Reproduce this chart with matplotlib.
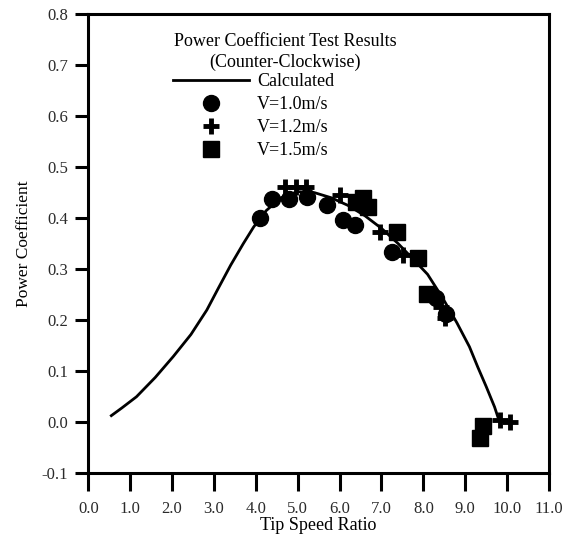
import matplotlib
matplotlib.use("Agg")
import matplotlib.pyplot as plt
from matplotlib.lines import Line2D

plt.rcParams["font.family"] = ["Liberation Serif", "DejaVu Serif"]

# calculated power coefficient curve
tsr_calc = [0.55, 0.8, 1.15, 1.6, 2.03, 2.45, 2.83, 3.1, 3.4, 3.7, 3.95, 4.25, 4.6,
            5.0, 5.4, 5.8, 6.2, 6.6, 7.0, 7.4, 7.8, 8.1, 8.45, 8.8, 9.1, 9.3, 9.5,
            9.7, 9.78]
cp_calc = [0.013, 0.028, 0.05, 0.088, 0.129, 0.172, 0.22, 0.262, 0.308, 0.35, 0.383,
           0.415, 0.44, 0.452, 0.45, 0.44, 0.425, 0.405, 0.38, 0.35, 0.316, 0.29,
           0.245, 0.195, 0.148, 0.108, 0.07, 0.03, 0.01]

# test results, V = 1.0 m/s
tsr_v10 = [4.10, 4.38, 4.78, 5.21, 5.69, 6.09, 6.36, 7.24, 8.31, 8.55]
cp_v10 = [0.40, 0.438, 0.438, 0.442, 0.425, 0.396, 0.386, 0.334, 0.243, 0.213]

# test results, V = 1.2 m/s
tsr_v12 = [4.69, 4.97, 5.20, 6.00, 6.96, 7.52, 8.43, 8.51, 9.83, 10.06]
cp_v12 = [0.461, 0.461, 0.461, 0.445, 0.373, 0.327, 0.226, 0.204, 0.005, 0.0]

# test results, V = 1.5 m/s
tsr_v15 = [6.40, 6.56, 6.68, 7.36, 7.88, 8.08, 9.43, 9.35]
cp_v15 = [0.432, 0.44, 0.422, 0.373, 0.321, 0.252, -0.008, -0.03]

xticks = [0.0, 1.0, 2.0, 3.0, 4.0, 5.0, 6.0, 7.0, 8.0, 9.0, 10.0, 11.0]
yticks = [-0.1, 0.0, 0.1, 0.2, 0.3, 0.4, 0.5, 0.6, 0.7, 0.8]

fig = plt.figure(figsize=(5.66, 5.39), dpi=100)
ax = fig.add_axes([0.156, 0.1219, 0.814, 0.852])

ax.plot(tsr_calc, cp_calc, color="black", lw=2.0, zorder=2)
ax.plot(tsr_v10, cp_v10, "o", color="black", ms=11.5, zorder=3)
ax.plot(tsr_v12, cp_v12, "+", color="black", ms=12, mew=3.5, zorder=3)
ax.plot(tsr_v15, cp_v15, "s", color="black", ms=11, zorder=3)

ax.set_xlim(0, 11)
ax.set_ylim(-0.1, 0.8)
ax.set_xticks(xticks)
ax.set_yticks(yticks)
ax.set_xticklabels([f"{v:.1f}" for v in xticks])
ax.set_yticklabels([f"{v:.1f}" for v in yticks])

for s in ax.spines.values():
    s.set_linewidth(2.2)
ax.tick_params(axis="x", direction="out", length=13, width=2.2, pad=7,
               labelsize=12, labelcolor="#2a2a2a")
ax.tick_params(axis="y", direction="out", length=9.5, width=2.2, pad=5,
               labelsize=12, labelcolor="#2a2a2a")

ax.set_xlabel("Tip Speed Ratio", fontsize=13, labelpad=0)
ax.set_ylabel("Power Coefficient", fontsize=12.5, labelpad=7)

# legend block
fig.text(285 / 566, 1 - 52 / 539, "Power Coefficient Test Results\n(Counter-Clockwise)",
         ha="center", va="center", fontsize=13, linespacing=1.22)

handles = [
    Line2D([], [], color="black", lw=2.0),
    Line2D([], [], ls="none", marker="o", color="black", ms=11.5),
    Line2D([], [], ls="none", marker="+", color="black", ms=12, mew=3.5),
    Line2D([], [], ls="none", marker="s", color="black", ms=11),
]
labels = ["Calculated", "V=1.0m/s", "V=1.2m/s", "V=1.5m/s"]
fig.legend(handles, labels, loc="upper left",
           bbox_to_anchor=(173 / 566, 1 - 73.5 / 539),
           frameon=False, fontsize=13, handlelength=4.2, handletextpad=0.45,
           labelspacing=0.32, borderpad=0, borderaxespad=0)

fig.savefig("out.png", dpi=100)
